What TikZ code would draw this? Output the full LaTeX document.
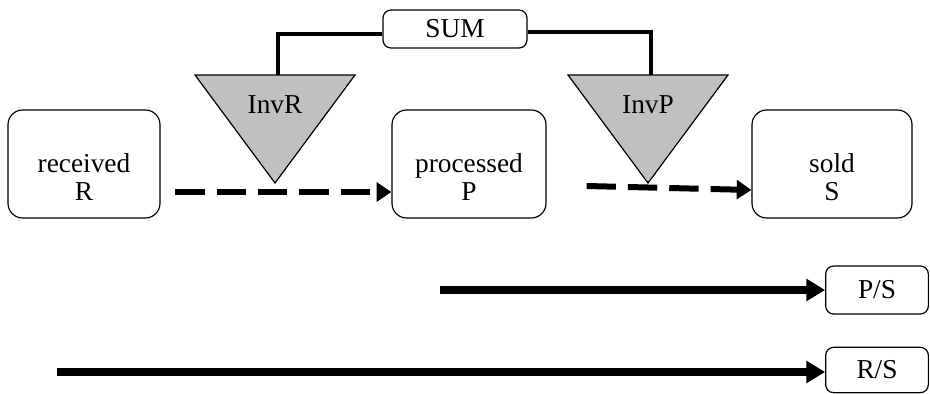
\documentclass[tikz,border=0pt]{standalone}
\usepackage{fontspec}
\setmainfont{Liberation Serif}
\usetikzlibrary{arrows.meta,positioning,calc}
\definecolor{invgray}{RGB}{192,192,192}
\newcommand{\stocktext}[2]{\rule{0pt}{34pt}#1\\#2}

\tikzset{
  stockbox/.style={draw, line width=0.9pt, rounded corners=11pt, minimum width=114pt,
    minimum height=81pt, align=center, font=\fontsize{20.5}{21}\selectfont},
  ratiobox/.style={draw, line width=0.9pt, rounded corners=6pt, minimum width=77pt,
    minimum height=36pt, font=\fontsize{20.5}{21}\selectfont},
  invtri/.style={draw, fill=invgray, line width=0.9pt, line join=miter},
  flow/.style={line width=4.5pt, dash pattern=on 22pt off 9pt, -{Triangle[length=11pt,width=14pt]}},
  ratio/.style={line width=5.5pt, -{Triangle[length=14pt,width=16pt]}},
  link/.style={line width=3pt}
}

\begin{document}
\begin{tikzpicture}[x=0.75pt,y=-0.75pt]
  \useasboundingbox (0,0) rectangle (930,393);
  % stocks
  \node[stockbox] (received) at (84,164) {\stocktext{received}{R}};
  \node[stockbox, minimum width=115.5pt] (processed) at (469,164) {\stocktext{processed}{P}};
  \node[stockbox, minimum width=120pt] (sold) at (832,164) {\stocktext{sold}{S}};
  % inventories
  \draw[invtri] (195,75) -- (355,75) -- (275,183) -- cycle;
  \draw[invtri] (568,75) -- (728,75) -- (648,183) -- cycle;
  \coordinate (invRtop) at (278,75);
  \coordinate (invPtop) at (651,75);
  \node[font=\fontsize{20.5}{21}\selectfont] (invRlabel) at (275,105) {InvR};
  \node[font=\fontsize{20.5}{21}\selectfont] (invPlabel) at (648,105) {InvP};
  % sum
  \node[ratiobox, minimum width=108pt, minimum height=28.5pt] (sum) at (455,29) {SUM};
  \draw[link] ([yshift=-3.5pt]sum.west) -| (invRtop);
  \draw[link] ([yshift=-2.5pt]sum.east) -| (invPtop);
  % flows
  \draw[flow] ([xshift=11pt,yshift=-21pt]received.east) -- ([yshift=-21pt]processed.west);
  \draw[flow] ([xshift=30pt,yshift=-16.5pt]processed.east) -- ([yshift=-19.5pt]sold.west);
  % ratios
  \node[ratiobox] (ps) at (877,290) {P/S};
  \node[ratiobox, minimum height=34pt] (rs) at (877,370) {R/S};
  \coordinate (psfrom) at (440,290);
  \coordinate (rsfrom) at (57,372);
  \draw[ratio] (psfrom) -- (ps.west);
  \draw[ratio] (rsfrom) -- (rs.west |- rsfrom);
\end{tikzpicture}
\end{document}
